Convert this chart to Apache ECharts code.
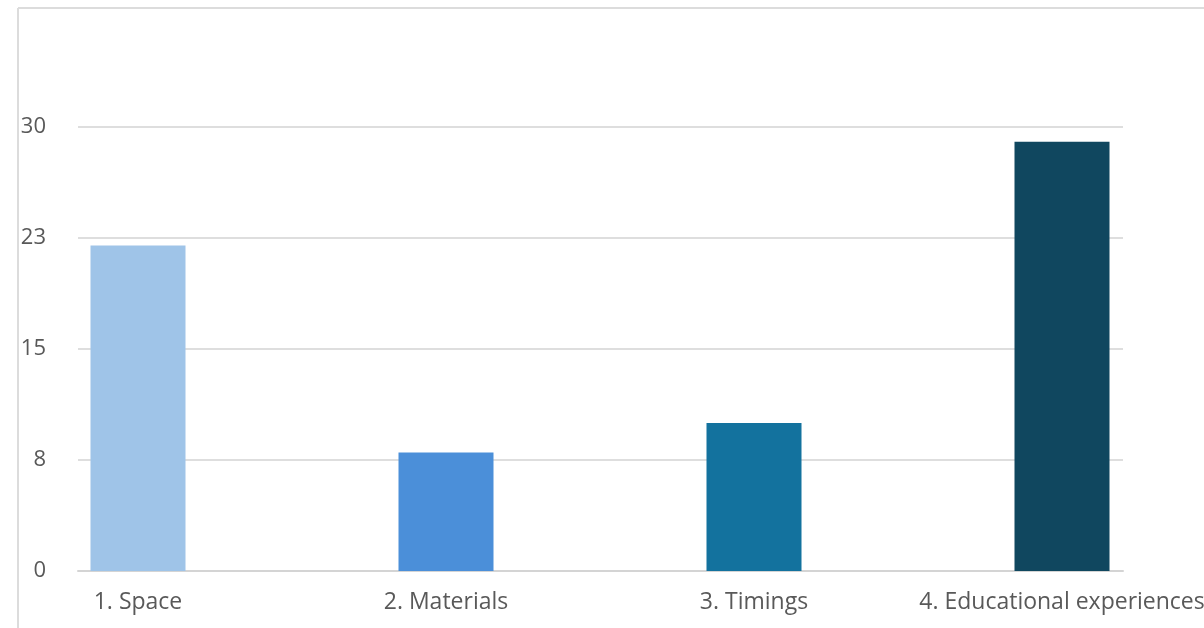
<!DOCTYPE html>
<html>
<head>
<meta charset="utf-8">
<script src="https://cdn.jsdelivr.net/npm/echarts@6/dist/echarts.min.js"></script>
<style>
  html, body { margin: 0; padding: 0; background: #fff; }
  #chart { width: 1204px; height: 628px; }
</style>
</head>
<body>
<div id="chart"></div>
<script>
// data
var categories = ['1. Space', '2. Materials', '3. Timings', '4. Educational experiences'];
var values = [22, 8, 10, 29];
var barColors = ['#9fc4e8', '#4b8fd9', '#13729e', '#10475f'];
var yTicks = [0, 7.5, 15, 22.5, 30]; // shown rounded: 0, 8, 15, 23, 30

var chart = echarts.init(document.getElementById('chart'));

var option = {
    backgroundColor: '#fff',
    animation: false,
    textStyle: { fontFamily: 'Open Sans, Noto Sans, sans-serif' },
    // frame of the original slide box
    graphic: [
        { type: 'line', shape: { x1: 18, y1: 8, x2: 18, y2: 628 }, style: { stroke: '#dcdcdc', lineWidth: 2 } },
        { type: 'line', shape: { x1: 18, y1: 8, x2: 1204, y2: 8 }, style: { stroke: '#dcdcdc', lineWidth: 2 } }
    ],
    grid: [
        // bars
        { left: 138, right: 142, top: 127, bottom: 57, outerBoundsMode: 'none' },
        // gridlines / y labels / baseline
        { left: 78, right: 81, top: 127, bottom: 57, outerBoundsMode: 'none' }
    ],
    xAxis: [
        {
            gridIndex: 0,
            type: 'category',
            boundaryGap: false,
            data: categories,
            axisLine: { show: false },
            axisTick: { show: false },
            axisLabel: {
                interval: 0,
                color: '#595959',
                fontSize: 23,
                margin: 20
            }
        },
        {
            gridIndex: 1,
            type: 'value',
            min: 0,
            max: 1,
            axisLine: { show: true, lineStyle: { color: '#d4d4d4', width: 2 } },
            axisTick: { show: false },
            axisLabel: { show: false },
            splitLine: { show: false }
        }
    ],
    yAxis: [
        { gridIndex: 0, type: 'value', min: 0, max: 30, show: false },
        {
            gridIndex: 1,
            type: 'value',
            min: 0,
            max: yTicks[yTicks.length - 1],
            interval: yTicks[1] - yTicks[0],
            axisLine: { show: false },
            axisTick: { show: false },
            axisLabel: {
                color: '#595959',
                fontSize: 22,
                margin: 32,
                formatter: function (v) { return Math.round(v); }
            },
            splitLine: { lineStyle: { color: '#dedede', width: 2 } }
        }
    ],
    series: [{
        type: 'bar',
        xAxisIndex: 0,
        yAxisIndex: 0,
        barWidth: 95,
        data: values.map(function (v, i) {
            return { value: v, itemStyle: { color: barColors[i] } };
        })
    }]
};

chart.setOption(option);
</script>
</body>
</html>
